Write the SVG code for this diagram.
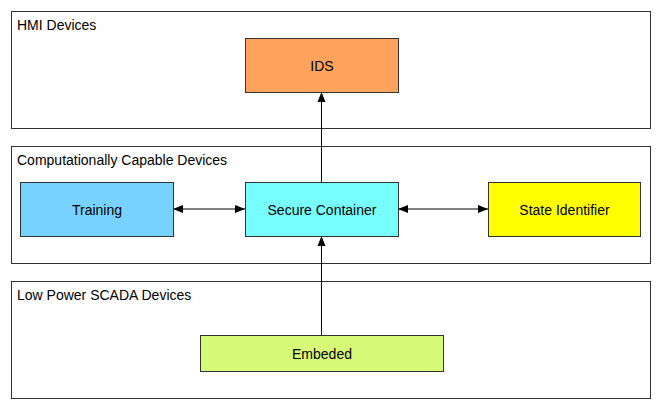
<svg xmlns="http://www.w3.org/2000/svg" width="661" height="409" viewBox="0 0 661 409">
<style>
.group{fill:#fff;stroke:#333;stroke-width:1}
.node{stroke:#333;stroke-width:1}
.t{font-family:"Liberation Sans",Arial,sans-serif;font-size:14px;fill:#000}
.c{text-anchor:middle;dominant-baseline:central}
.edge{stroke:#000;stroke-width:1;fill:none}
</style>
<defs>
<marker id="ah" viewBox="0 0 10 10" refX="10" refY="5" markerWidth="10" markerHeight="10" markerUnits="userSpaceOnUse" orient="auto-start-reverse">
<path d="M0,1 L10,5 L0,9 z" fill="#000"/>
</marker>
</defs>
<rect width="661" height="409" fill="#fff"/>
<g id="hmi">
<rect class="group" x="11.5" y="11.5" width="639" height="117"/>
<text class="t" x="17" y="30">HMI Devices</text>
</g>
<g id="capable">
<rect class="group" x="11.5" y="146.5" width="639" height="117"/>
<text class="t" x="17" y="165">Computationally Capable Devices</text>
</g>
<g id="lowpower">
<rect class="group" x="11.5" y="281.5" width="639" height="117"/>
<text class="t" x="17" y="300">Low Power SCADA Devices</text>
</g>
<g id="connectors">
<line class="edge" x1="321.5" y1="182" x2="321.5" y2="92" marker-end="url(#ah)"/>
<line class="edge" x1="321.5" y1="335" x2="321.5" y2="236" marker-end="url(#ah)"/>
<line class="edge" x1="173" y1="209" x2="245" y2="209" marker-start="url(#ah)" marker-end="url(#ah)"/>
<line class="edge" x1="398" y1="209" x2="488" y2="209" marker-start="url(#ah)" marker-end="url(#ah)"/>
</g>
<g id="ids">
<rect class="node" x="245.5" y="38.5" width="153" height="54" fill="#FFA35C"/>
<text class="t c" x="322" y="65.5">IDS</text>
</g>
<g id="training">
<rect class="node" x="20.5" y="182.5" width="153" height="54" fill="#78D2FF"/>
<text class="t c" x="97" y="209.5">Training</text>
</g>
<g id="secure">
<rect class="node" x="245.5" y="182.5" width="153" height="54" fill="#77FFFF"/>
<text class="t c" x="322" y="209.5">Secure Container</text>
</g>
<g id="state">
<rect class="node" x="488.5" y="182.5" width="152" height="54" fill="#FFFF00"/>
<text class="t c" x="564.5" y="209.5">State Identifier</text>
</g>
<g id="embeded">
<rect class="node" x="200.5" y="335.5" width="243" height="36" fill="#D6FA78"/>
<text class="t c" x="322" y="353.5">Embeded</text>
</g>
</svg>
